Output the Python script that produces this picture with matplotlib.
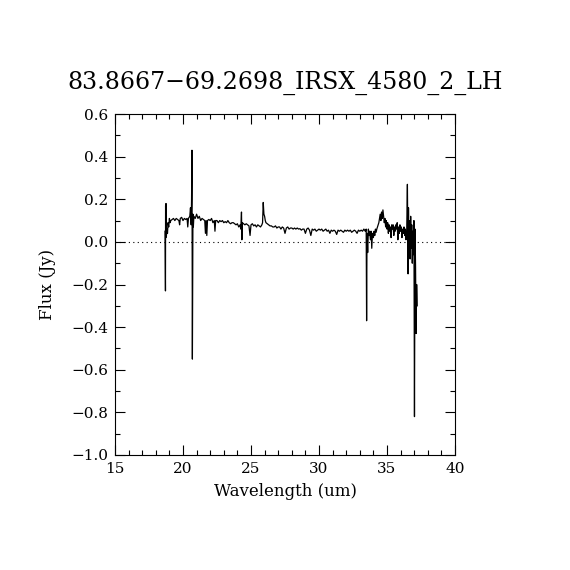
import matplotlib
matplotlib.use('Agg')
import matplotlib.pyplot as plt
from matplotlib.ticker import MultipleLocator, FuncFormatter

# spectrum (wavelength in um, flux in Jy)
wave = [18.68, 18.71, 18.72, 18.74, 18.75, 18.78, 18.82, 18.86, 18.90, 18.95,
        19.00, 19.05, 19.10, 19.20, 19.30, 19.40, 19.50, 19.60, 19.70, 19.75,
        19.80, 19.90, 20.00, 20.10, 20.20, 20.30, 20.35, 20.40, 20.50, 20.55,
        20.60, 20.63, 20.66, 20.69, 20.73, 20.76, 20.80, 20.90, 21.00, 21.10,
        21.20, 21.30, 21.40, 21.50, 21.60, 21.65, 21.70, 21.75, 21.80, 21.90,
        22.00, 22.10, 22.20, 22.30, 22.35, 22.40, 22.50, 22.60, 22.70, 22.80,
        22.90, 23.00, 23.10, 23.20, 23.30, 23.40, 23.50, 23.60, 23.70, 23.80,
        23.90, 24.00, 24.10, 24.20, 24.25, 24.30, 24.33, 24.36, 24.45, 24.55,
        24.65, 24.75, 24.85, 24.93, 25.00, 25.10, 25.20, 25.30, 25.40, 25.50,
        25.60, 25.70, 25.80, 25.85, 25.90, 25.95, 26.00, 26.05, 26.10, 26.20,
        26.30, 26.40, 26.50, 26.60, 26.70, 26.80, 26.90, 27.00, 27.10, 27.20,
        27.30, 27.40, 27.50, 27.60, 27.70, 27.80, 27.90, 28.00, 28.10, 28.20,
        28.30, 28.40, 28.50, 28.60, 28.70, 28.80, 28.90, 29.00, 29.10, 29.20,
        29.30, 29.40, 29.50, 29.60, 29.70, 29.80, 29.90, 30.00, 30.10, 30.20,
        30.30, 30.40, 30.50, 30.60, 30.70, 30.80, 30.90, 31.00, 31.10, 31.20,
        31.30, 31.40, 31.50, 31.60, 31.70, 31.80, 31.90, 32.00, 32.10, 32.20,
        32.30, 32.40, 32.50, 32.60, 32.70, 32.80, 32.90, 33.00, 33.10, 33.20,
        33.30, 33.40, 33.47, 33.50, 33.53, 33.58, 33.63, 33.68, 33.73, 33.78,
        33.83, 33.88, 33.93, 34.00, 34.05, 34.10, 34.15, 34.20, 34.25, 34.30,
        34.40, 34.50, 34.55, 34.60, 34.65, 34.70, 34.75, 34.80, 34.85, 34.90,
        34.95, 35.00, 35.05, 35.10, 35.15, 35.20, 35.25, 35.30, 35.35, 35.40,
        35.45, 35.50, 35.55, 35.60, 35.65, 35.70, 35.75, 35.80, 35.85, 35.90,
        35.95, 36.00, 36.05, 36.10, 36.15, 36.20, 36.25, 36.30, 36.35, 36.40,
        36.45, 36.50, 36.55, 36.58, 36.62, 36.66, 36.70, 36.74, 36.78, 36.82,
        36.86, 36.90, 36.94, 36.98, 37.02, 37.06, 37.10, 37.14, 37.18, 37.22]
flux = [0.05, -0.23, 0.17, 0.02, 0.18, 0.03, 0.06, 0.04, 0.09, 0.07,
        0.11, 0.09, 0.10, 0.105, 0.11, 0.10, 0.11, 0.105, 0.10, 0.08,
        0.11, 0.115, 0.10, 0.11, 0.105, 0.11, 0.07, 0.11, 0.12, 0.16,
        0.08, 0.20, 0.43, -0.55, 0.13, 0.07, 0.12, 0.11, 0.13, 0.11,
        0.12, 0.10, 0.11, 0.105, 0.10, 0.04, 0.10, 0.03, 0.10, 0.105,
        0.10, 0.11, 0.09, 0.10, 0.05, 0.10, 0.10, 0.09, 0.10, 0.095,
        0.10, 0.09, 0.095, 0.09, 0.10, 0.09, 0.085, 0.09, 0.09, 0.085,
        0.08, 0.085, 0.07, 0.08, 0.06, 0.14, 0.01, 0.09, 0.085, 0.08,
        0.085, 0.08, 0.075, 0.03, 0.08, 0.085, 0.075, 0.08, 0.07, 0.08,
        0.075, 0.07, 0.08, 0.09, 0.185, 0.13, 0.12, 0.10, 0.09, 0.085,
        0.08, 0.075, 0.075, 0.07, 0.07, 0.075, 0.065, 0.07, 0.07, 0.06,
        0.07, 0.065, 0.04, 0.065, 0.07, 0.06, 0.065, 0.065, 0.06, 0.065,
        0.06, 0.065, 0.06, 0.062, 0.055, 0.06, 0.06, 0.04, 0.06, 0.065,
        0.055, 0.03, 0.06, 0.055, 0.06, 0.05, 0.055, 0.06, 0.055, 0.06,
        0.05, 0.055, 0.06, 0.05, 0.055, 0.04, 0.055, 0.05, 0.055, 0.05,
        0.035, 0.055, 0.05, 0.055, 0.05, 0.045, 0.055, 0.05, 0.055, 0.05,
        0.055, 0.045, 0.05, 0.055, 0.05, 0.04, 0.055, 0.05, 0.055, 0.05,
        0.06, 0.05, 0.06, -0.37, 0.04, -0.05, 0.06, 0.03, 0.05, 0.01,
        0.05, -0.03, 0.04, 0.02, 0.05, 0.03, 0.06, 0.045, 0.06, 0.07,
        0.09, 0.13, 0.10, 0.14, 0.11, 0.15, 0.12, 0.09, 0.11, 0.07,
        0.10, 0.06, 0.09, 0.04, 0.08, 0.05, 0.07, 0.02, 0.08, 0.06,
        0.08, 0.03, 0.07, 0.05, 0.08, 0.06, 0.09, 0.01, 0.07, 0.04,
        0.08, 0.05, 0.07, 0.02, 0.06, 0.04, 0.07, 0.03, 0.06, 0.01,
        0.05, 0.27, -0.15, 0.16, -0.05, 0.10, -0.08, 0.12, -0.03, 0.08,
        -0.10, 0.05, -0.06, 0.10, -0.82, 0.06, -0.12, -0.43, -0.20, -0.30]

plt.rcParams['font.family'] = ['DejaVu Serif']

fig = plt.figure(figsize=(5.7, 5.7), dpi=100)
ax = fig.add_axes([115/570, 115/570, 340/570, 341/570])

ax.plot(wave, flux, color='k', lw=0.9)
ax.axhline(0.0, color='k', lw=0.8, ls=(0, (1, 3)))

ax.set_xlim(15, 40)
ax.set_ylim(-1.0, 0.6)
ax.xaxis.set_major_locator(MultipleLocator(5))
ax.xaxis.set_minor_locator(MultipleLocator(1))
ax.yaxis.set_major_locator(MultipleLocator(0.2))
ax.yaxis.set_minor_locator(MultipleLocator(0.1))
ax.yaxis.set_major_formatter(FuncFormatter(lambda v, p: ('%.1f' % v).replace('-', '\u2212')))
ax.tick_params(which='both', direction='in', top=True, right=True, width=0.8,
               labelsize=11)
ax.tick_params(which='major', length=7, pad=5)
ax.tick_params(which='minor', length=3.5)
for s in ax.spines.values():
    s.set_linewidth(0.8)

ax.set_xlabel('Wavelength (um)', fontsize=12, labelpad=5)
ax.set_ylabel('Flux (Jy)', fontsize=12, labelpad=11)
fig.text(0.5, 1 - 83/570, '83.8667\u221269.2698_IRSX_4580_2_LH', ha='center',
         va='center', fontsize=17)

fig.savefig('out.png', dpi=100)
